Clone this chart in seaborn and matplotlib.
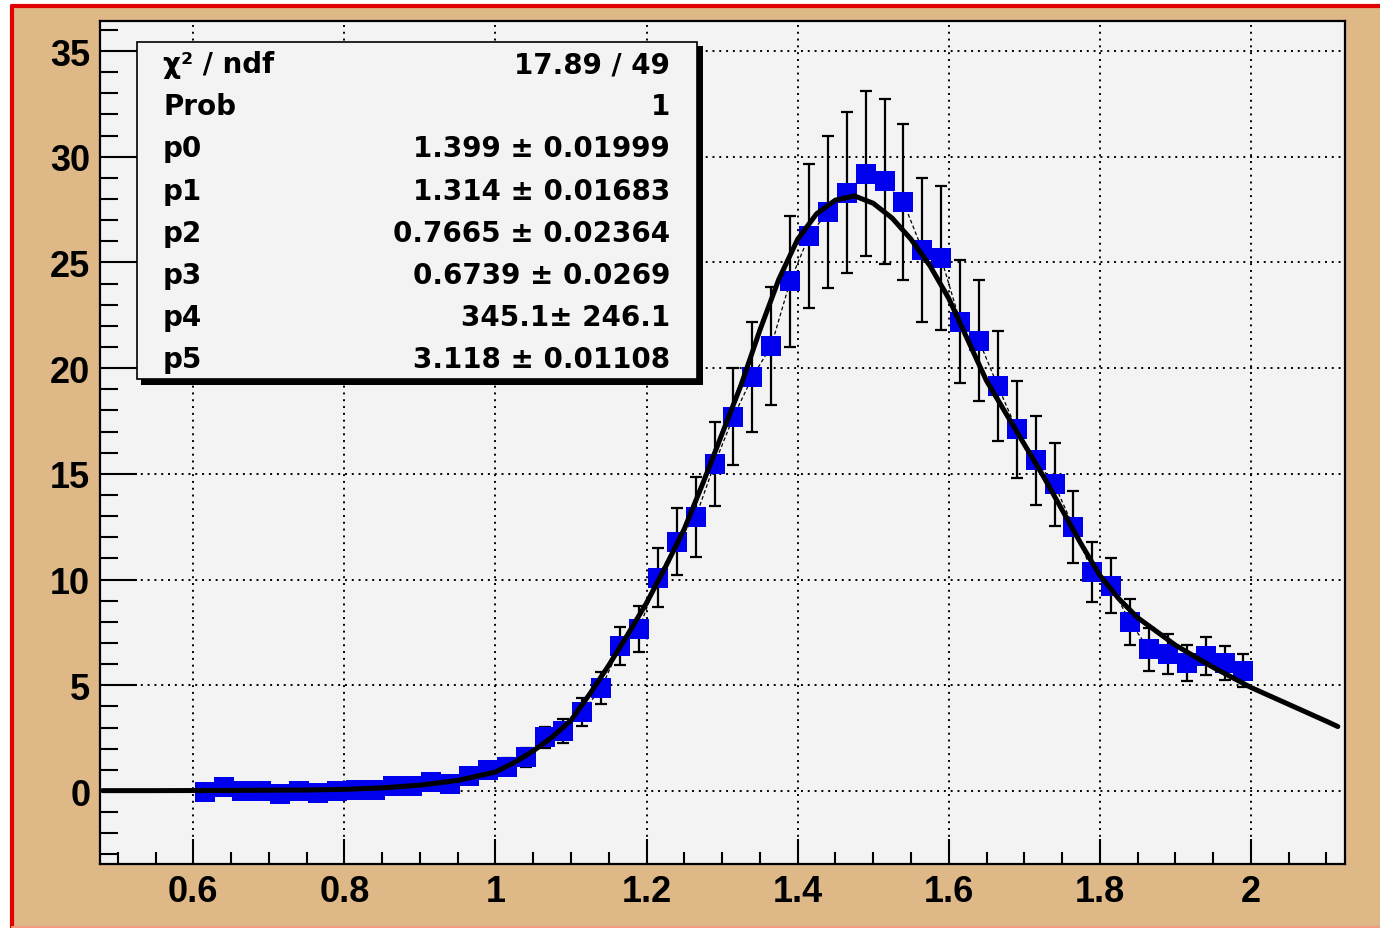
import seaborn as sns
import matplotlib.pyplot as plt
from matplotlib.patches import Rectangle
from matplotlib.lines import Line2D
from matplotlib.ticker import MultipleLocator, FuncFormatter

# histogram points (bin centres, contents, errors)
bin_centers = [0.615, 0.640, 0.665, 0.690, 0.715, 0.740, 0.765, 0.790, 0.815, 0.840,
               0.865, 0.890, 0.915, 0.940, 0.965, 0.990, 1.015, 1.040, 1.065, 1.090,
               1.115, 1.140, 1.165, 1.190, 1.215, 1.240, 1.265, 1.290, 1.315, 1.340,
               1.365, 1.390, 1.415, 1.440, 1.465, 1.490, 1.515, 1.540, 1.565, 1.590,
               1.615, 1.640, 1.665, 1.690, 1.715, 1.740, 1.765, 1.790, 1.815, 1.840,
               1.865, 1.890, 1.915, 1.940, 1.965, 1.990]
counts = [-0.05, 0.19, 0.02, 0.0, -0.14, 0.0, -0.1, 0.0, 0.05, 0.05,
          0.24, 0.24, 0.43, 0.33, 0.71, 1.0, 1.16, 1.6, 2.55, 2.84,
          3.74, 4.87, 6.86, 7.66, 10.1, 11.8, 12.96, 15.47, 17.7, 19.58,
          21.05, 24.1, 26.25, 27.4, 28.3, 29.2, 28.85, 27.85, 25.6, 25.2,
          22.2, 21.3, 19.15, 17.1, 15.65, 14.5, 12.5, 10.36, 9.7, 8.0,
          6.7, 6.5, 6.05, 6.4, 6.05, 5.7]
errors = [0.15, 0.15, 0.15, 0.15, 0.15, 0.15, 0.15, 0.15, 0.15, 0.15,
          0.2, 0.2, 0.25, 0.25, 0.3, 0.35, 0.4, 0.45, 0.5, 0.55,
          0.65, 0.75, 0.9, 1.1, 1.4, 1.6, 1.9, 2.0, 2.3, 2.6,
          2.8, 3.1, 3.4, 3.6, 3.8, 3.9, 3.9, 3.7, 3.4, 3.4,
          2.9, 2.85, 2.6, 2.3, 2.1, 1.95, 1.7, 1.4, 1.3, 1.1,
          1.0, 0.95, 0.85, 0.9, 0.8, 0.8]

# fit curve
fit_x = [0.48, 0.55, 0.65, 0.75, 0.80, 0.85, 0.90, 0.95, 1.00, 1.025,
         1.05, 1.075, 1.10, 1.125, 1.15, 1.175, 1.20, 1.225, 1.25, 1.275,
         1.30, 1.325, 1.35, 1.375, 1.40, 1.425, 1.45, 1.475, 1.50, 1.525,
         1.55, 1.575, 1.60, 1.625, 1.65, 1.675, 1.70, 1.725, 1.75, 1.775,
         1.80, 1.825, 1.85, 1.90, 1.95, 2.00, 2.05, 2.10, 2.115]
fit_y = [0.02, 0.02, 0.03, 0.05, 0.08, 0.15, 0.28, 0.5, 0.9, 1.35,
         1.9, 2.55, 3.35, 4.6, 5.95, 7.4, 8.9, 10.6, 12.4, 14.6,
         16.9, 19.2, 21.8, 24.2, 26.1, 27.3, 27.95, 28.15, 27.8, 27.1,
         26.1, 24.85, 23.3, 21.35, 19.4, 17.9, 16.4, 14.9, 13.3, 11.7,
         10.2, 9.1, 8.2, 6.9, 5.85, 4.9, 4.1, 3.3, 3.05]

stat_names = ["χ² / ndf", "Prob", "p0", "p1", "p2", "p3", "p4", "p5"]
stat_values = ["17.89 / 49", "1", "1.399 ± 0.01999", "1.314 ± 0.01683",
               "0.7665 ± 0.02364", "0.6739 ± 0.0269", "345.1± 246.1",
               "3.118 ± 0.01108"]

sns.set_style("white")
plt.rcParams['font.family'] = ['Liberation Sans', 'DejaVu Sans']

W, H = 1380, 929
fig = plt.figure(figsize=(13.8, 9.29), dpi=100, facecolor='white')

# tan canvas with red edge (top and left)
fig.add_artist(Rectangle((12 / W, 0), 1 - 12 / W, 1 - 7 / H, facecolor='#deb887',
                         edgecolor='none', zorder=-2))
fig.add_artist(Line2D([12 / W, 12 / W], [0, 1 - 7 / H], color='#e00000', lw=3, zorder=-1))
fig.add_artist(Line2D([12 / W, 1], [1 - 7 / H, 1 - 7 / H], color='#e00000', lw=3, zorder=-1))
fig.add_artist(Line2D([12 / W, 1], [1 / H, 1 / H], color='#f39a80', lw=1.5, zorder=-1))

ax = fig.add_axes([100 / W, 1 - 865 / H, 1245 / W, 843 / H])
ax.set_facecolor('#f3f3f3')

ax.errorbar(bin_centers, counts, yerr=errors, fmt='none', ecolor='black',
            elinewidth=1.6, capsize=4, capthick=1.6, zorder=2)
sns.lineplot(x=bin_centers, y=counts, ax=ax, color='black', linewidth=0.9,
             linestyle=(0, (3, 2)), estimator=None, sort=False, zorder=3)
sns.scatterplot(x=bin_centers, y=counts, ax=ax, marker='s', s=200,
                color='#0000ee', linewidth=0, zorder=4)
sns.lineplot(x=fit_x, y=fit_y, ax=ax, color='black', linewidth=3.6,
             estimator=None, sort=False, zorder=5)
ax.lines[-1].set_solid_joinstyle('round')
ax.lines[-1].set_solid_capstyle('round')

ax.set_xlim(0.4765, 2.1245)
ax.set_ylim(-3.45, 36.42)
ax.set_axisbelow(True)
ax.grid(True, which='major', color='black', linestyle=(0, (1, 2.5)), linewidth=1.4)

ax.xaxis.set_major_locator(MultipleLocator(0.2))
ax.xaxis.set_minor_locator(MultipleLocator(0.05))
ax.yaxis.set_major_locator(MultipleLocator(5))
ax.yaxis.set_minor_locator(MultipleLocator(1))
fmt = FuncFormatter(lambda v, p: f"{round(v, 3):g}")
ax.xaxis.set_major_formatter(fmt)
ax.yaxis.set_major_formatter(fmt)

ax.tick_params(which='both', direction='in', left=True, bottom=True, top=False,
               right=False, color='black', labelcolor='black', width=1.5,
               labelsize=26)
ax.tick_params(axis='y', which='major', length=26.6, pad=7)
ax.tick_params(axis='y', which='minor', length=13)
ax.tick_params(axis='x', which='major', length=18, pad=7)
ax.tick_params(axis='x', which='minor', length=9)
for lab in ax.get_xticklabels() + ax.get_yticklabels():
    lab.set_fontweight('bold')
for sp in ax.spines.values():
    sp.set_color('black')
    sp.set_linewidth(1.6)
ax.set_xlabel('')
ax.set_ylabel('')

# stats box with shadow
fig.add_artist(Rectangle((141 / W, 1 - 386 / H), 562 / W, 339 / H,
                         facecolor='black', edgecolor='none', zorder=5))
fig.add_artist(Rectangle((137 / W, 1 - 380 / H), 560 / W, 337 / H,
                         facecolor='#f3f3f3', edgecolor='black', lw=1.2, zorder=6))
for i, (name, val) in enumerate(zip(stat_names, stat_values)):
    yb = 1 - (73 + 42.2 * i) / H
    fig.text(163 / W, yb, name, fontsize=20, fontweight='bold', family='DejaVu Sans',
             color='black', ha='left', va='baseline', zorder=7)
    fig.text(670 / W, yb, val, fontsize=20, fontweight='bold', family='DejaVu Sans',
             color='black', ha='right', va='baseline', zorder=7)

fig.savefig('out.png', dpi=100, facecolor=fig.get_facecolor())
